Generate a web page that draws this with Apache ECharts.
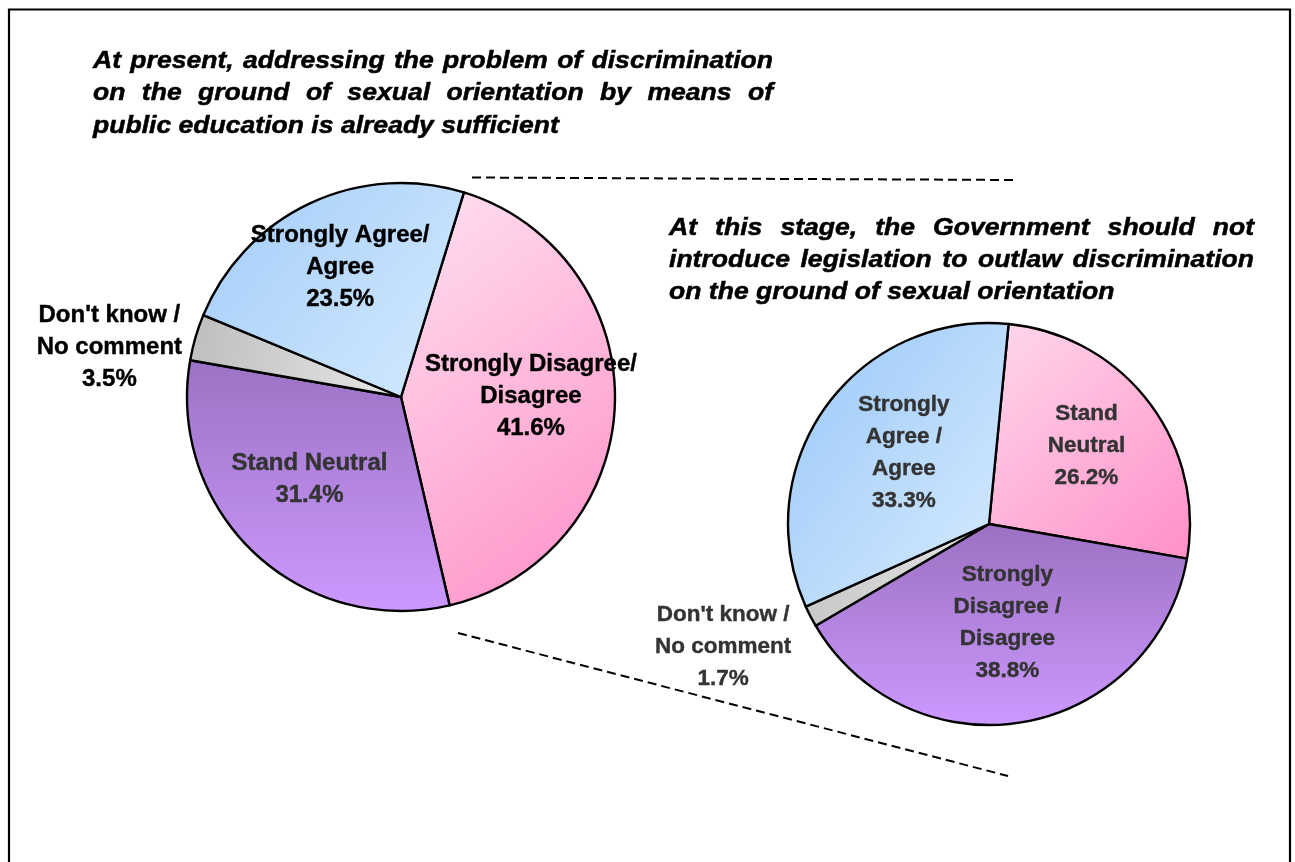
<!DOCTYPE html>
<html>
<head>
<meta charset="utf-8">
<script src="https://cdn.jsdelivr.net/npm/echarts@6/dist/echarts.min.js"></script>
<style>
html,body{margin:0;padding:0;background:#fff;}
#chart{width:1295px;height:862px;}
</style>
</head>
<body>
<div id="chart"></div>
<script>
// ---------- data ----------
const leftTitleLines = [
  "At present, addressing the problem of discrimination",
  "on the ground of sexual orientation by means of",
  "public education is already sufficient"
];
const rightTitleLines = [
  "At this stage, the Government should not",
  "introduce legislation to outlaw discrimination",
  "on the ground of sexual orientation"
];
const leftCategories = ["Strongly Disagree/\nDisagree", "Stand Neutral", "Don't know /\nNo comment", "Strongly Agree/\nAgree"];
const leftValues = [41.6, 31.4, 3.5, 23.5];
const rightCategories = ["Stand\nNeutral", "Strongly\nDisagree /\nDisagree", "Don't know /\nNo comment", "Strongly\nAgree /\nAgree"];
const rightValues = [26.2, 38.8, 1.7, 33.3];

// ---------- styles ----------
const FONT_FAMILY = '"Liberation Sans", Arial, sans-serif';
const TITLE_SIZE = 23.5;
const TITLE_SX = 1.13;
const TITLE_FONT = 'italic bold ' + TITLE_SIZE + 'px ' + FONT_FAMILY;

function lin(x, y, x2, y2, c1, c2) {
  return {type: 'linear', x: x, y: y, x2: x2, y2: y2, colorStops: [{offset: 0, color: c1}, {offset: 1, color: c2}]};
}
const leftFills = [
  lin(0, 0.15, 1, 0.85, '#ffd8ec', '#ff97cb'),
  lin(0, 0, 0, 1, '#9b72c3', '#cc99ff'),
  lin(0, 0, 1, 0.5, '#bdbdbd', '#e6e6e6'),
  lin(0, 0, 1, 1, '#a2ccf9', '#d6ebff')
];
const rightFills = [
  lin(0, 0, 1, 1, '#ffd8ec', '#ff8fc8'),
  lin(0, 0, 0, 1, '#9b70c1', '#cc99ff'),
  lin(0, 0, 1, 0.5, '#c4c4c4', '#e4e4e4'),
  lin(0, 0.2, 1, 0.8, '#9fcbf8', '#d3e9ff')
];
const leftLabelColors = ['#000', '#333', '#000', '#000'];
const rightLabelColors = ['#333', '#333', '#333', '#333'];
// label nudges relative to library's inside position (style only)
const leftLabelShift = [[20, -4], [-16, 2], [-186, -19], [-14, -30]];
const rightLabelShift = [[15, -16], [0, -3], [-174, 75], [-1, -11]];

// ---------- title text (justified) ----------
const measureCtx = document.createElement('canvas').getContext('2d');
measureCtx.font = TITLE_FONT;
function titleElements(lines, x0, baseline0, width, gapY) {
  const els = [];
  const st = function (t) {
    return {text: t, font: TITLE_FONT, fill: '#000', stroke: '#000', lineWidth: 0.5,
      textAlign: 'left', textVerticalAlign: 'middle'};
  };
  lines.forEach(function (line, i) {
    const y = baseline0 + i * gapY - 0.34 * TITLE_SIZE;
    if (i < lines.length - 1) {
      const words = line.split(' ');
      const ws = words.map(function (w) { return measureCtx.measureText(w).width * TITLE_SX; });
      const total = ws.reduce(function (a, b) { return a + b; }, 0);
      const gap = (width - total) / (words.length - 1);
      let x = x0;
      words.forEach(function (w, j) {
        els.push({type: 'text', x: x, y: y, scaleX: TITLE_SX, silent: true, style: st(w)});
        x += ws[j] + gap;
      });
    } else {
      els.push({type: 'text', x: x0, y: y, scaleX: TITLE_SX, silent: true, style: st(line)});
    }
  });
  return els;
}

const graphics = [
  {type: 'rect', silent: true, shape: {x: 9, y: 9.5, width: 1281, height: 900},
    style: {fill: 'none', stroke: '#000', lineWidth: 2.2}},
  {type: 'line', silent: true, shape: {x1: 472, y1: 177.5, x2: 1016, y2: 180},
    style: {stroke: '#000', lineWidth: 2, lineDash: [9, 5]}},
  {type: 'line', silent: true, shape: {x1: 458, y1: 633, x2: 1008, y2: 776},
    style: {stroke: '#000', lineWidth: 2, lineDash: [9, 5]}}
].concat(titleElements(leftTitleLines, 93, 69.5, 680, 32.4))
 .concat(titleElements(rightTitleLines, 669, 237, 585, 31.8));

// ---------- pies ----------
function pieSeries(cats, vals, center, radius, startAngle, fills, labelColors, fontSize, shifts) {
  return {
    type: 'pie',
    center: center,
    radius: radius,
    startAngle: startAngle,
    clockwise: true,
    silent: true,
    avoidLabelOverlap: false,
    animation: false,
    itemStyle: {borderColor: '#000', borderWidth: 2.4},
    label: {
      show: true,
      position: 'inside',
      fontFamily: FONT_FAMILY,
      fontWeight: 'bold',
      fontSize: fontSize,
      lineHeight: 32,
      textBorderWidth: 0,
      formatter: function (p) { return p.name + '\n' + p.value.toFixed(1) + '%'; }
    },
    labelLine: {show: false},
    labelLayout: function (p) {
      const s = shifts[p.dataIndex];
      const r = p.labelRect;
      return {x: r.x + r.width / 2 + s[0], y: r.y + r.height / 2 + s[1], align: 'center', verticalAlign: 'middle'};
    },
    data: cats.map(function (c, i) {
      return {name: c, value: vals[i], itemStyle: {color: fills[i]},
        label: {color: labelColors[i], textBorderColor: labelColors[i], textBorderWidth: 0.4}};
    })
  };
}

const chart = echarts.init(document.getElementById('chart'), null, {renderer: 'canvas'});
chart.setOption({
  backgroundColor: '#fff',
  animation: false,
  graphic: {elements: graphics},
  series: [
    pieSeries(leftCategories, leftValues, [401, 397], 214, 72.9, leftFills, leftLabelColors, 24, leftLabelShift),
    pieSeries(rightCategories, rightValues, [989, 524], 201, 84.4, rightFills, rightLabelColors, 22.5, rightLabelShift)
  ]
});
</script>
</body>
</html>
